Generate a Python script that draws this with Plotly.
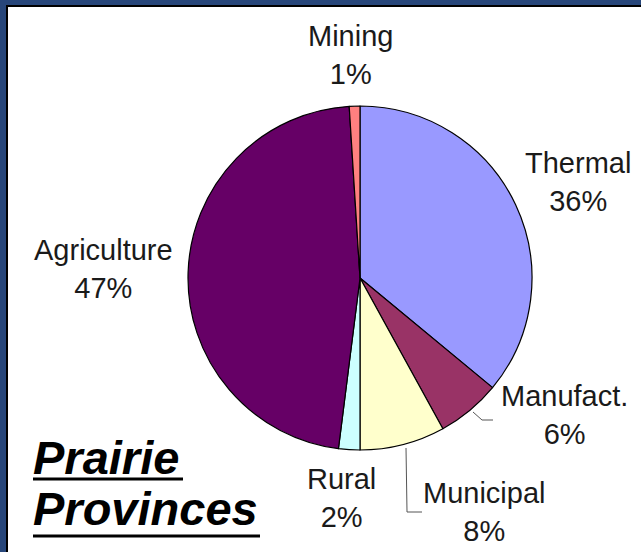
import plotly.graph_objects as go

# ---- data ----
labels = ["Thermal", "Manufact.", "Municipal", "Rural", "Agriculture", "Mining"]
values = [36, 6, 8, 2, 47, 1]
colors = ["#9999FF", "#993366", "#FFFFCC", "#CCFFFF", "#660066", "#FF8080"]
title_lines = ["Prairie", "Provinces"]

W, H = 641, 552
def px(x): return x / W
def py(y): return 1 - y / H

# pie geometry (pixels)
cx, cy, r = 360, 278, 172

fig = go.Figure(go.Pie(
    labels=labels, values=values, sort=False, direction="clockwise", rotation=0,
    marker=dict(colors=colors, line=dict(color="#000000", width=1.2)),
    textinfo="none", hoverinfo="label+percent", showlegend=False,
    domain=dict(x=[px(cx - r), px(cx + r)], y=[py(cy + r), py(cy - r)]),
))

# label positions (pixel centres) for each slice label
label_pos = {
    "Thermal": (578, 182),
    "Manufact.": (564, 415),
    "Municipal": (484, 512),
    "Rural": (341, 498),
    "Agriculture": (103, 269),
    "Mining": (350, 55),
}
annotations = []
for lab, val in zip(labels, values):
    x, y = label_pos[lab]
    annotations.append(dict(
        x=px(x), y=py(y), xref="paper", yref="paper", showarrow=False,
        xanchor="center", yanchor="middle", align="center",
        text=f"{lab}<br>{val}%",
        font=dict(family="Liberation Sans", size=29, color="#1a1a1a"),
    ))

# title
for txt, yc in zip(title_lines, [457, 508]):
    annotations.append(dict(
        x=px(31), y=py(yc), xref="paper", yref="paper", showarrow=False,
        xanchor="left", yanchor="middle",
        text=f"<b><i>{txt}</i></b>",
        font=dict(family="Liberation Sans", size=47, color="#000000"),
    ))

shapes = [
    # white panel with black border
    dict(type="rect", xref="paper", yref="paper", x0=px(7), x1=px(W + 5), y0=py(H + 5), y1=py(6),
         fillcolor="#FFFFFF", line=dict(color="#000000", width=2), layer="below"),
    # underlines
    dict(type="line", xref="paper", yref="paper", x0=px(33), x1=px(183), y0=py(479), y1=py(479),
         line=dict(color="#000000", width=3)),
    dict(type="line", xref="paper", yref="paper", x0=px(33), x1=px(260), y0=py(536), y1=py(536),
         line=dict(color="#000000", width=3)),
    # leader lines
    dict(type="path", xref="paper", yref="paper",
         path=f"M {px(473)},{py(412)} L {px(482)},{py(420)} L {px(493)},{py(420)}",
         line=dict(color="#555555", width=1)),
    dict(type="path", xref="paper", yref="paper",
         path=f"M {px(406)},{py(448)} L {px(407)},{py(512)} L {px(422)},{py(512)}",
         line=dict(color="#555555", width=1)),
]

fig.update_layout(
    width=W, height=H, margin=dict(l=0, r=0, t=0, b=0),
    paper_bgcolor="#27467a", plot_bgcolor="#27467a",
    annotations=annotations, shapes=shapes,
)

fig.write_html("out.html")
